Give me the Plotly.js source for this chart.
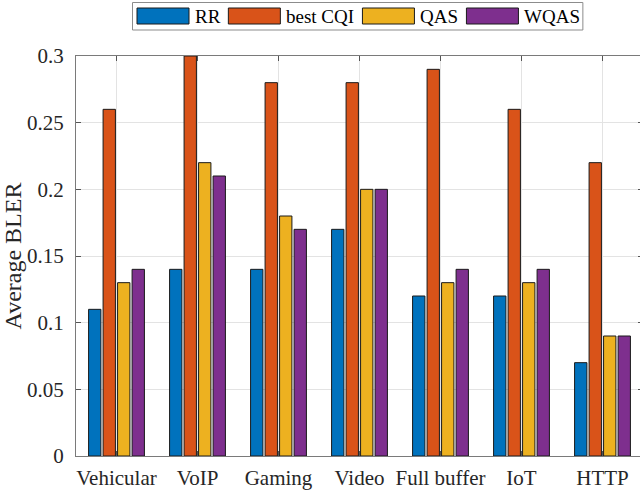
<!DOCTYPE html>
<html>
<head>
<meta charset="utf-8">
<script src="https://cdn.plot.ly/plotly-3.0.1.min.js"></script>
<style>
html, body { margin: 0; padding: 0; overflow: hidden; background: #fff; }
#chart { width: 644px; height: 491px; }
</style>
</head>
<body>
<div id="chart"></div>
<script>
var categories = ["Vehicular", "VoIP", "Gaming", "Video", "Full buffer", "IoT", "HTTP"];
var seriesNames = ["RR", "best CQI", "QAS", "WQAS"];
var seriesColors = ["#0072BD", "#D95319", "#EDB120", "#7E2F8E"];
var rr      = [0.11, 0.14, 0.14, 0.17, 0.12, 0.12, 0.07];
var bestCQI = [0.26, 0.30, 0.28, 0.28, 0.29, 0.26, 0.22];
var qas     = [0.13, 0.22, 0.18, 0.20, 0.13, 0.13, 0.09];
var wqas    = [0.14, 0.21, 0.17, 0.20, 0.14, 0.14, 0.09];
var yTickVals = [0, 0.05, 0.1, 0.15, 0.2, 0.25, 0.3];
var yTickText = ["0", "0.05", "0.1", "0.15", "0.2", "0.25", "0.3"];

var seriesValues = [rr, bestCQI, qas, wqas];
var FONT = "Liberation Serif, Times New Roman, serif";

var traces = seriesValues.map(function (vals, i) {
  return {
    type: "bar",
    name: seriesNames[i],
    x: categories,
    y: vals,
    marker: { color: seriesColors[i], line: { color: "#1a1a1a", width: 1 } },
    showlegend: false,
    hoverinfo: "skip"
  };
});

// plot area geometry (pixels)
var W = 644, H = 491, ML = 76, MR = 1, MT = 56, MB = 35;
var PW = W - ML - MR, PH = H - MT - MB;
function px2x(px) { return (px - ML) / PW; }
function py2y(py) { return (H - MB - py) / PH; }

// custom MATLAB-like legend
var legFont = 19;
var cv = document.createElement("canvas").getContext("2d");
cv.font = legFont + "px 'Liberation Serif'";
var shapes = [], annotations = [];
var boxLeft = 132.5, boxTop = 2.5, boxBottom = 30;
var x = 137, swW = 52, swTop = 8, swBot = 24;
var items = [];
seriesNames.forEach(function (name, i) {
  var tw = cv.measureText(name).width;
  items.push({ sx: x, tx: x + swW + 4, tw: tw, i: i });
  x = x + swW + 4 + tw + 10;
});
var last = items[items.length - 1];
var boxRight = last.tx + last.tw + 4.5;
shapes.push({
  type: "rect", xref: "paper", yref: "paper", layer: "above",
  x0: px2x(boxLeft), x1: px2x(boxRight), y0: py2y(boxBottom), y1: py2y(boxTop),
  fillcolor: "#ffffff", line: { color: "#8c8c8c", width: 1 }
});
items.forEach(function (it) {
  shapes.push({
    type: "rect", xref: "paper", yref: "paper", layer: "above",
    x0: px2x(it.sx), x1: px2x(it.sx + swW), y0: py2y(swBot), y1: py2y(swTop),
    fillcolor: seriesColors[it.i], line: { color: "#1a1a1a", width: 1 }
  });
  annotations.push({
    xref: "paper", yref: "paper", x: px2x(it.tx), y: py2y(16.5),
    xanchor: "left", yanchor: "middle", showarrow: false,
    text: seriesNames[it.i], font: { family: FONT, size: legFont, color: "#000" }
  });
});

var layout = {
  width: W, height: H,
  margin: { l: ML, r: MR, t: MT, b: MB, pad: 0 },
  paper_bgcolor: "#fff", plot_bgcolor: "#fff",
  barmode: "group", bargap: 0.284, bargroupgap: 0.15,
  font: { family: FONT, size: 21, color: "#262626" },
  xaxis: {
    type: "category", range: [-0.5, 6.5],
    showgrid: true, gridcolor: "#e3e3e3", gridwidth: 1,
    showline: true, linecolor: "#7a7a7a", linewidth: 1, mirror: "ticks",
    ticks: "inside", ticklen: 5, tickcolor: "#555",
    tickfont: { family: FONT, size: 21, color: "#262626" },
    ticklabelstandoff: 3,
    zeroline: false, fixedrange: true
  },
  yaxis: {
    range: [0, 0.3], tickvals: yTickVals, ticktext: yTickText,
    showgrid: true, gridcolor: "#e3e3e3", gridwidth: 1,
    showline: true, linecolor: "#7a7a7a", linewidth: 1, mirror: "ticks",
    ticks: "inside", ticklen: 5, tickcolor: "#555",
    tickfont: { family: FONT, size: 21, color: "#262626" },
    ticklabelstandoff: 7,
    zeroline: false, fixedrange: true,
    title: { text: "Average BLER", font: { family: FONT, size: 24, color: "#262626" }, standoff: 0 }
  },
  shapes: shapes,
  annotations: annotations,
  showlegend: false
};

Plotly.newPlot("chart", traces, layout, { displayModeBar: false, staticPlot: true });
</script>
</body>
</html>
